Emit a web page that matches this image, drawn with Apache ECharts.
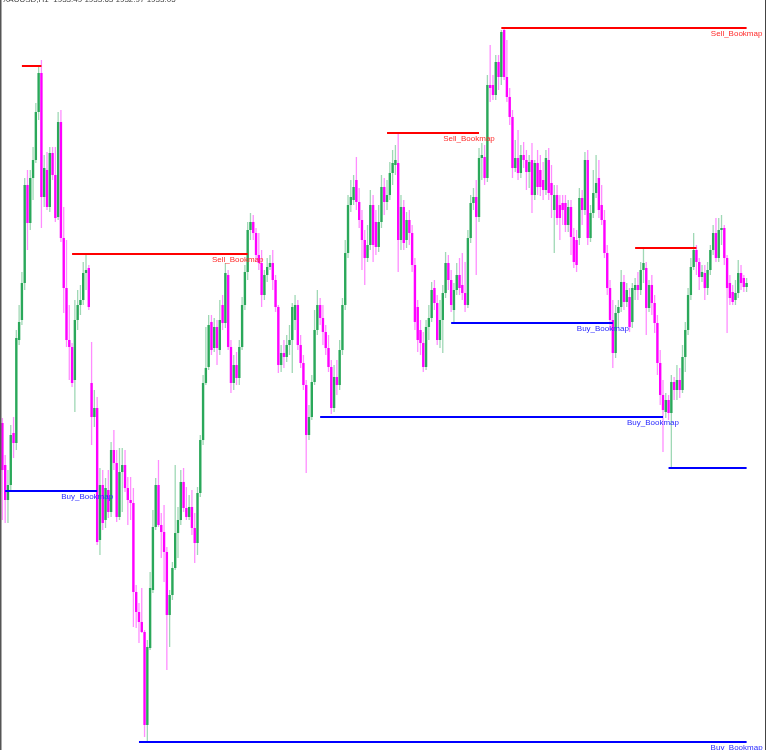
<!DOCTYPE html>
<html>
<head>
<meta charset="utf-8">
<script src="https://cdn.jsdelivr.net/npm/echarts@6/dist/echarts.min.js"></script>
<style>html,body{margin:0;padding:0;background:#fff;}#c{width:768px;height:750px;}</style>
</head>
<body>
<div id="c"></div>
<script>
const headerText = 'XAUUSD,H1  1933.49 1933.63 1932.97 1933.05';

const open = [1932.7,1928.5,1925.0,1926.5,1931.7,1930.7,1941.0,1943.0,1946.7,1956.5,1952.7,1957.2,1959.0,1963.8,1967.7,1955.3,1958.0,1954.3,1959.7,1957.5,1953.3,1962.8,1951.2,1946.2,1941.0,1940.3,1937.0,1943.0,1944.5,1945.0,1947.7,1948.2,1936.7,1933.3,1934.2,1921.0,1926.5,1923.0,1926.0,1923.8,1930.0,1928.7,1923.3,1927.8,1928.5,1926.2,1925.0,1924.7,1915.8,1913.8,1912.8,1911.8,1902.5,1910.2,1916.0,1922.3,1926.5,1922.5,1921.8,1919.8,1913.5,1915.5,1918.2,1921.7,1923.0,1926.8,1924.2,1923.3,1924.3,1922.2,1920.7,1925.7,1931.0,1936.7,1938.3,1942.8,1940.2,1942.3,1940.0,1944.5,1942.7,1947.5,1940.3,1936.7,1938.5,1937.2,1940.3,1944.5,1947.8,1952.0,1952.8,1951.7,1949.5,1948.7,1945.5,1947.5,1948.3,1948.7,1947.0,1944.3,1938.5,1939.7,1939.3,1940.5,1941.0,1943.0,1944.5,1940.5,1938.7,1936.5,1931.5,1933.3,1936.8,1942.0,1944.5,1943.2,1941.8,1940.2,1938.3,1934.2,1937.3,1936.5,1940.0,1944.5,1949.7,1954.5,1955.0,1957.0,1954.8,1953.0,1951.0,1949.2,1950.5,1954.5,1952.8,1950.3,1952.8,1956.3,1954.8,1955.5,1957.7,1958.5,1958.7,1951.0,1954.3,1951.0,1953.0,1951.7,1948.5,1944.3,1942.0,1940.7,1938.3,1942.3,1943.2,1946.2,1944.7,1941.0,1943.0,1945.7,1948.7,1947.0,1944.0,1946.0,1947.5,1946.5,1945.7,1944.5,1951.2,1954.7,1955.3,1953.3,1959.2,1959.3,1957.2,1966.5,1966.5,1965.5,1968.8,1967.3,1972.0,1967.3,1965.3,1963.3,1958.2,1959.2,1957.7,1959.5,1959.0,1957.8,1959.0,1955.5,1958.7,1958.0,1957.0,1956.0,1959.0,1956.7,1954.0,1955.5,1954.5,1954.7,1954.7,1952.5,1954.3,1951.3,1951.0,1951.2,1955.2,1954.0,1959.0,1951.2,1953.7,1955.7,1957.2,1954.5,1953.0,1949.7,1946.2,1943.0,1939.7,1943.7,1944.3,1946.8,1944.8,1945.3,1942.8,1946.0,1946.5,1946.0,1948.0,1948.2,1944.2,1946.5,1944.7,1942.7,1938.7,1935.5,1933.8,1935.0,1933.7,1936.8,1936.0,1937.0,1936.0,1939.3,1942.0,1945.5,1948.3,1950.0,1948.8,1947.3,1947.7,1946.2,1948.0,1950.0,1951.7,1949.2,1952.0,1952.2,1949.2,1946.7,1945.8,1945.0,1945.7,1947.7,1947.2,1946.3];

const close = [1928.0,1925.0,1926.5,1931.5,1930.7,1941.2,1942.8,1946.7,1956.5,1952.7,1957.2,1959.0,1963.8,1967.7,1955.3,1958.2,1954.3,1959.7,1957.5,1953.2,1962.8,1951.2,1946.2,1941.0,1940.3,1936.7,1943.0,1944.5,1945.0,1947.7,1948.0,1944.3,1933.3,1934.2,1920.8,1926.5,1922.7,1926.2,1923.8,1930.0,1928.7,1923.3,1927.8,1928.5,1926.2,1925.0,1924.7,1915.8,1913.8,1912.8,1911.8,1902.5,1910.3,1916.2,1922.3,1926.5,1922.5,1921.8,1919.8,1913.5,1915.5,1918.2,1921.7,1923.0,1926.8,1924.2,1923.3,1924.3,1922.2,1920.7,1925.7,1931.0,1936.7,1938.2,1942.5,1940.0,1942.3,1940.2,1943.0,1942.7,1947.7,1940.3,1936.7,1938.5,1937.2,1940.3,1944.5,1947.8,1952.0,1952.8,1951.7,1949.5,1948.7,1945.5,1947.5,1948.3,1948.7,1947.0,1944.3,1938.5,1939.7,1939.3,1940.5,1941.0,1944.3,1944.5,1940.5,1938.7,1936.5,1931.5,1933.3,1936.8,1942.0,1944.5,1943.2,1941.8,1940.2,1938.3,1934.2,1937.3,1936.5,1940.0,1944.5,1949.7,1954.5,1955.3,1956.3,1954.8,1953.0,1951.0,1949.2,1950.5,1954.5,1950.5,1950.3,1952.8,1956.3,1954.8,1955.5,1957.7,1958.7,1959.0,1951.0,1954.3,1950.7,1953.0,1951.7,1948.5,1942.8,1941.0,1940.7,1938.3,1942.3,1943.2,1946.0,1944.7,1941.0,1943.0,1945.7,1948.7,1947.0,1944.5,1946.0,1947.5,1946.2,1945.7,1944.5,1951.2,1954.7,1955.3,1953.3,1959.2,1959.5,1957.2,1966.5,1966.2,1965.5,1968.8,1967.3,1971.8,1967.3,1965.3,1963.3,1958.2,1959.2,1957.7,1959.5,1959.0,1957.8,1958.8,1955.5,1958.7,1956.3,1956.3,1956.0,1959.2,1955.7,1955.5,1955.5,1953.2,1953.2,1954.0,1952.5,1954.3,1951.3,1948.8,1948.5,1955.2,1954.0,1959.0,1951.2,1953.7,1955.7,1956.7,1954.0,1953.0,1949.7,1946.2,1943.0,1939.7,1943.7,1944.3,1946.8,1944.8,1946.0,1942.3,1946.2,1946.5,1946.0,1948.0,1948.7,1944.2,1946.5,1944.7,1942.7,1938.7,1935.5,1934.0,1935.0,1933.7,1936.8,1936.0,1937.0,1936.0,1939.3,1942.0,1945.5,1948.3,1950.0,1948.8,1947.3,1947.8,1946.2,1948.0,1950.0,1951.7,1949.2,1952.0,1952.2,1949.2,1946.2,1945.2,1944.8,1945.7,1947.7,1946.7,1946.3,1946.7];

const high = [1933.2,1929.5,1928.0,1932.5,1933.3,1942.0,1944.5,1947.8,1957.2,1958.0,1958.0,1960.3,1964.7,1968.3,1969.0,1959.5,1959.8,1960.3,1960.3,1960.3,1963.8,1964.0,1954.3,1951.0,1944.5,1940.7,1945.0,1946.0,1946.5,1948.8,1949.5,1948.5,1940.8,1936.0,1935.3,1928.2,1928.0,1927.2,1928.0,1930.8,1932.0,1930.0,1930.2,1930.2,1930.0,1927.3,1927.3,1926.2,1916.5,1914.7,1916.2,1912.0,1911.0,1917.8,1924.0,1927.2,1929.0,1923.7,1924.5,1920.3,1916.0,1918.8,1928.5,1924.3,1928.0,1928.2,1926.3,1925.5,1926.0,1923.7,1926.3,1931.5,1937.5,1942.3,1943.5,1943.5,1943.2,1943.0,1945.0,1945.5,1948.7,1948.0,1941.0,1939.5,1939.8,1941.0,1945.3,1948.5,1952.8,1953.7,1953.5,1952.2,1951.7,1950.0,1948.0,1949.2,1949.5,1950.0,1947.5,1944.5,1940.5,1941.0,1941.5,1942.5,1944.7,1945.5,1945.0,1941.5,1939.5,1937.0,1934.5,1937.5,1944.0,1946.0,1945.2,1944.5,1942.5,1941.5,1939.0,1938.5,1939.0,1941.0,1945.2,1951.0,1955.5,1957.0,1957.5,1959.3,1956.2,1954.0,1952.0,1952.5,1956.0,1955.5,1954.0,1954.5,1957.5,1957.2,1957.0,1958.8,1960.0,1960.5,1961.7,1955.5,1955.0,1953.8,1954.0,1952.5,1949.2,1945.0,1943.0,1941.8,1943.0,1944.5,1946.8,1947.0,1945.5,1945.0,1946.5,1949.8,1949.5,1948.0,1946.7,1948.7,1949.2,1949.7,1948.8,1952.0,1955.5,1956.2,1957.0,1960.2,1960.7,1960.5,1967.5,1970.5,1967.5,1969.5,1969.5,1972.0,1972.3,1971.0,1966.2,1964.0,1961.0,1962.0,1960.5,1960.8,1960.0,1959.5,1960.7,1959.0,1960.0,1959.5,1958.8,1960.0,1960.2,1958.5,1956.5,1956.5,1955.5,1955.5,1955.5,1955.0,1955.0,1952.2,1952.0,1956.2,1956.0,1959.8,1960.0,1954.5,1958.0,1959.5,1959.0,1956.5,1954.0,1950.5,1947.0,1945.0,1944.5,1945.0,1948.0,1947.5,1946.7,1946.2,1946.7,1947.2,1947.8,1948.8,1950.2,1948.8,1947.0,1947.5,1945.5,1943.5,1940.0,1937.0,1935.7,1935.5,1937.5,1937.3,1938.5,1938.2,1940.5,1942.8,1946.2,1949.2,1951.7,1950.5,1949.2,1948.5,1948.5,1948.8,1950.5,1952.5,1953.2,1953.2,1953.5,1952.5,1949.5,1947.5,1946.5,1947.0,1949.0,1948.5,1947.5,1947.2];

const low = [1923.0,1922.7,1922.7,1925.8,1929.2,1930.0,1940.5,1942.5,1946.0,1950.0,1952.0,1955.0,1958.7,1963.0,1952.2,1954.3,1954.0,1953.8,1957.0,1952.8,1953.0,1950.8,1943.7,1940.3,1937.0,1936.3,1933.8,1942.0,1943.5,1944.5,1946.0,1944.0,1930.5,1932.3,1920.5,1919.5,1922.0,1922.2,1923.2,1923.3,1928.0,1922.8,1923.0,1923.8,1925.8,1922.5,1923.0,1912.3,1912.2,1910.7,1911.7,1901.3,1900.8,1910.0,1915.7,1922.0,1922.3,1919.2,1916.8,1908.0,1910.3,1915.0,1918.0,1919.2,1922.5,1923.8,1923.0,1923.0,1921.5,1918.7,1919.5,1925.3,1930.5,1936.5,1938.0,1939.5,1939.8,1938.5,1939.5,1942.0,1942.2,1940.0,1935.7,1936.0,1936.5,1936.5,1940.0,1944.0,1947.0,1951.0,1951.0,1948.8,1948.0,1944.3,1945.0,1946.8,1948.0,1946.0,1943.8,1937.7,1937.8,1938.2,1938.8,1939.5,1937.7,1942.0,1940.0,1938.2,1936.0,1927.7,1931.0,1933.0,1936.5,1941.5,1942.5,1940.5,1939.5,1937.8,1933.6,1933.8,1935.5,1936.0,1939.5,1944.0,1949.2,1953.8,1954.5,1954.0,1952.2,1948.0,1946.5,1948.8,1950.0,1948.8,1949.5,1949.8,1952.2,1953.5,1954.0,1955.0,1956.5,1957.5,1947.8,1950.0,1950.0,1950.2,1950.5,1947.8,1942.0,1939.8,1939.5,1937.8,1938.0,1941.0,1942.8,1944.0,1940.5,1940.2,1939.7,1945.2,1946.0,1943.8,1942.8,1945.5,1945.5,1945.0,1943.8,1944.2,1950.7,1954.0,1947.5,1952.8,1957.0,1956.5,1956.8,1964.8,1965.0,1965.0,1966.0,1966.5,1967.0,1964.8,1962.5,1957.2,1957.8,1957.0,1957.2,1958.2,1956.0,1956.2,1953.7,1955.0,1955.5,1955.4,1955.0,1955.5,1955.0,1953.2,1949.7,1952.5,1951.0,1952.5,1951.8,1951.8,1949.5,1948.2,1947.8,1950.5,1952.5,1953.5,1950.5,1950.8,1953.2,1955.2,1953.2,1952.5,1949.2,1945.5,1942.0,1938.2,1939.2,1942.2,1943.8,1944.0,1944.3,1941.8,1942.2,1945.0,1945.0,1945.5,1946.7,1941.5,1943.8,1943.5,1941.7,1937.5,1934.5,1929.8,1933.2,1933.0,1928.2,1935.0,1935.0,1935.2,1935.7,1937.8,1941.5,1945.0,1948.0,1947.5,1946.0,1946.8,1945.0,1945.5,1947.5,1949.5,1948.8,1948.8,1950.5,1948.5,1941.7,1944.5,1944.5,1944.5,1945.2,1946.0,1945.8,1945.8];

// Horizontal "Bookmap" levels: price, first bar, last bar, label
const levelPrice = [1968.4, 1949.6, 1961.7, 1972.2, 1950.2, 1925.9, 1942.7, 1933.3, 1928.2, 1900.8];
const levelStart = [7, 25, 138, 179, 227, 1, 161, 114, 239, 49];
const levelEnd   = [14, 88, 171, 267, 249, 34, 219, 237, 267, 267];
const levelSide  = ['sell','sell','sell','sell','sell','buy','buy','buy','buy','buy'];
const levelLabel = ['', 'Sell_Bookmap', 'Sell_Bookmap', 'Sell_Bookmap', '', 'Buy_Bookmap', 'Buy_Bookmap', 'Buy_Bookmap', '', 'Buy_Bookmap'];

const N = open.length;
const candleData = open.map((o, i) => [i, o, close[i], low[i], high[i]]);
const levelData = levelPrice.map((p, k) => [levelStart[k], levelEnd[k], p, k]);

const UP = '#2aa85a', UP_W = 'rgba(42,168,90,0.45)';
const DN = '#ff00ff', DN_W = 'rgba(255,0,255,0.45)';

const chart = echarts.init(document.getElementById('c'), null, {renderer: 'canvas'});
chart.setOption({
  animation: false,
  backgroundColor: '#ffffff',
  grid: {left: 1, right: 20, top: 0, bottom: 0, containLabel: false},
  xAxis: {type: 'value', min: -0.5, max: N - 0.5, show: false},
  yAxis: {type: 'value', min: 1900, max: 1975, show: false},
  graphic: [
    {type: 'rect', shape: {x: 0, y: 0, width: 1.5, height: 750}, style: {fill: '#555'}, z: 100},
    {type: 'rect', shape: {x: 765, y: 0, width: 1, height: 750}, style: {fill: '#444'}, z: 100},
    {type: 'text', left: 3, top: -4, style: {text: headerText, fontSize: 8, fontFamily: 'Liberation Sans, Arial', fill: '#444'}, z: 100}
  ],
  series: [
    {
      type: 'custom',
      data: candleData,
      encode: {x: 0, y: [1, 2, 3, 4]},
      clip: false,
      renderItem: function (params, api) {
        const i = api.value(0), o = api.value(1), c = api.value(2), l = api.value(3), h = api.value(4);
        const pO = api.coord([i, o]), pC = api.coord([i, c]);
        const pH = api.coord([i, h]), pL = api.coord([i, l]);
        const up = c > o;
        const x = pO[0];
        const top = Math.min(pO[1], pC[1]);
        const hgt = Math.max(1, Math.abs(pO[1] - pC[1]));
        return {
          type: 'group',
          children: [
            {type: 'line', shape: {x1: x, y1: pH[1], x2: x, y2: pL[1]},
             style: {stroke: up ? UP_W : DN_W, lineWidth: 1.3}},
            {type: 'rect', shape: {x: x - 1.2, y: top, width: 2.4, height: hgt},
             style: {fill: up ? UP : DN}}
          ]
        };
      }
    },
    {
      type: 'custom',
      data: levelData,
      encode: {x: [0, 1], y: 2},
      clip: false,
      z: 5,
      renderItem: function (params, api) {
        const s = api.value(0), e = api.value(1), p = api.value(2), k = api.value(3);
        const a = api.coord([s, p]), b = api.coord([e, p]);
        const col = levelSide[k] === 'sell' ? '#ff0000' : '#0000ff';
        const txtCol = levelSide[k] === 'sell' ? '#ff2a2a' : '#2a2aff';
        const children = [
          {type: 'line', shape: {x1: a[0], y1: a[1], x2: b[0], y2: b[1]},
           style: {stroke: col, lineWidth: 2}}
        ];
        if (levelLabel[k]) {
          children.push({type: 'text', x: b[0] - 10, y: b[1] + 6,
            style: {text: levelLabel[k], fill: txtCol, fontSize: 8, fontFamily: 'Liberation Sans, Arial',
                    align: 'center', verticalAlign: 'middle'}});
        }
        return {type: 'group', children: children};
      }
    }
  ]
});
</script>
</body>
</html>
